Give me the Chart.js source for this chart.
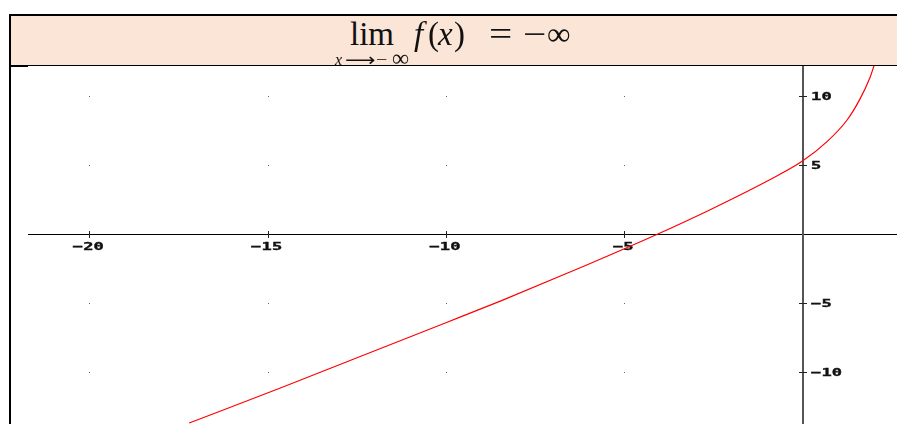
<!DOCTYPE html>
<html lang="fr">
<head>
<meta charset="utf-8"/>
<title>Limite en moins l'infini</title>
<script src="https://cdn.jsdelivr.net/npm/chart.js@4.4.1/dist/chart.umd.min.js"></script>
<style>
	body { margin: 0; background: #fff; }
	.wrap { position: relative; width: 897px; height: 424px; overflow: hidden; }
	canvas { position: absolute; left: 0; top: 0; }
	.head {
		position: absolute; left: 9px; top: 14px; width: 886px; height: 49px;
		background: #FBE5D6; border-top: 2px solid #000; border-left: 2px solid #000; border-bottom: 1px solid #000;
	}
	.edge { position: absolute; left: 9px; top: 14px; width: 2px; height: 410px; background: #000; }
	.notch { position: absolute; left: 11px; top: 65px; width: 17px; height: 2px; background: #000; }
	.m { position: absolute; line-height: 1; font-family: "Liberation Serif", serif; color: #111; white-space: nowrap; }
	.big { font-size: 33px; }
	.sub { font-size: 16px; }
	.it { font-style: italic; }
	.wide { transform: scaleX(1.25); transform-origin: left center; }
	.arrow { transform: scaleX(1.18); transform-origin: left center; }
</style>
</head>
<body>
<div class="wrap">
	<canvas id="graph" width="897" height="424"></canvas>
	<div class="head"></div>
	<div class="edge"></div>
	<div class="notch"></div>
	<!-- formule : lim f(x) = -inf quand x -> -inf -->
	<span class="m big" style="left:350px; top:18px;">lim</span>
	<span class="m sub it" style="left:335px; top:52px;">x</span>
	<span class="m sub arrow" style="left:345px; top:51px; font-family:'DejaVu Sans'; font-size:18px;">⟶</span>
	<span class="m sub wide" style="left:376px; top:52px;">−</span>
	<span class="m sub" style="left:392px; top:46px; font-size:24px;">∞</span>
	<span class="m big it" style="left:414px; top:18px;">f</span>
	<span class="m big" style="left:428px; top:18px;">(</span>
	<span class="m big it" style="left:438px; top:18px;">x</span>
	<span class="m big" style="left:454px; top:18px;">)</span>
	<span class="m big wide" style="left:489px; top:18px;">=</span>
	<span class="m big wide" style="left:523px; top:18px;">−</span>
	<span class="m big" style="left:547px; top:18px;">∞</span>
</div>

<script>
	// points
	const xVals = [-17.2, -14.66, -12.6, -10.0, -8.44, -6.52, -4.04, -2.59, -1.0, 0, 0.68, 1.24, 1.61, 1.89, 2.01];
	const yVals = [-13.72, -11.2, -9.1, -6.45, -4.85, -2.78, 0, 1.74, 3.8, 5.26, 6.65, 8.2, 9.75, 11.3, 12.2];

	// graduations
	const xTicks = [-20, -15, -10, -5];
	const xTickLabels = ['−20', '−15', '−10', '−5'];
	const yTicks = [10, 5, -5, -10];
	const yTickLabels = ['10', '5', '−5', '−10'];

	const points = xVals.map((x, i) => ({x: x, y: yVals[i]}));

	// petit texte "pixel" large : police mono étirée horizontalement
	function wideText(ctx, str, x, y, align) {
		const sx = 1.55, step = 6.7 * sx;
		const w = str.length * step;
		let x0 = align === 'center' ? x - w / 2 : x;
		ctx.save();
		ctx.font = 'bold 11px "DejaVu Sans Mono"';
		ctx.textBaseline = 'middle';
		ctx.textAlign = 'center';
		ctx.fillStyle = '#111';
		ctx.strokeStyle = '#111';
		ctx.lineWidth = 0.4;
		for (let i = 0; i < str.length; i++) {
			ctx.save();
			ctx.translate(x0 + step * (i + 0.5), y);
			ctx.scale(sx, 1);
			ctx.fillText(str[i], 0, 0);
			ctx.strokeText(str[i], 0, 0);
			ctx.restore();
		}
		ctx.restore();
	}

	const axesPlugin = {
		id: 'axes',
		beforeDatasetsDraw(chart) {
			const ctx = chart.ctx;
			const sx = chart.scales.x, sy = chart.scales.y;
			const area = chart.chartArea;
			const ox = Math.round(sx.getPixelForValue(0));
			const oy = Math.round(sy.getPixelForValue(0));

			ctx.save();
			// points de la grille
			ctx.fillStyle = '#666';
			xTicks.forEach(tx => {
				yTicks.forEach(ty => {
					ctx.fillRect(Math.round(sx.getPixelForValue(tx)), Math.round(sy.getPixelForValue(ty)), 1, 1);
				});
			});

			// axe des abscisses
			ctx.fillStyle = '#000';
			ctx.fillRect(area.left, oy, area.right - area.left, 1);
			// axe des ordonnées
			ctx.fillStyle = '#555';
			ctx.fillRect(ox - 1, area.top, 2, area.bottom - area.top);

			// tirets
			ctx.fillStyle = '#222';
			xTicks.forEach(tx => {
				ctx.fillRect(Math.round(sx.getPixelForValue(tx)), oy - 3, 1, 7);
			});
			yTicks.forEach(ty => {
				ctx.fillRect(ox - 4, Math.round(sy.getPixelForValue(ty)), 8, 1);
			});
			ctx.restore();

			xTicks.forEach((tx, i) => {
				wideText(ctx, xTickLabels[i], sx.getPixelForValue(tx) - 1, oy + 13, 'center');
			});
			yTicks.forEach((ty, i) => {
				wideText(ctx, yTickLabels[i], ox + 8, sy.getPixelForValue(ty) + 1, 'left');
			});
		}
	};

	const chart = new Chart(document.getElementById('graph'), {
		type: 'scatter',
		data: {
			datasets: [{
				data: points,
				showLine: true,
				borderColor: '#FF0000',
				borderWidth: 1.2,
				pointRadius: 0,
				cubicInterpolationMode: 'monotone'
			}]
		},
		options: {
			responsive: false,
			animation: false,
			devicePixelRatio: 1,
			layout: {padding: {left: 28, top: 66, right: 0, bottom: 0}},
			plugins: {legend: {display: false}, tooltip: {enabled: false}},
			scales: {
				x: {type: 'linear', min: -21.72, max: 2.65, display: false},
				y: {type: 'linear', min: -13.79, max: 12.15, display: false}
			}
		},
		plugins: [axesPlugin]
	});
</script>
</body>
</html>
